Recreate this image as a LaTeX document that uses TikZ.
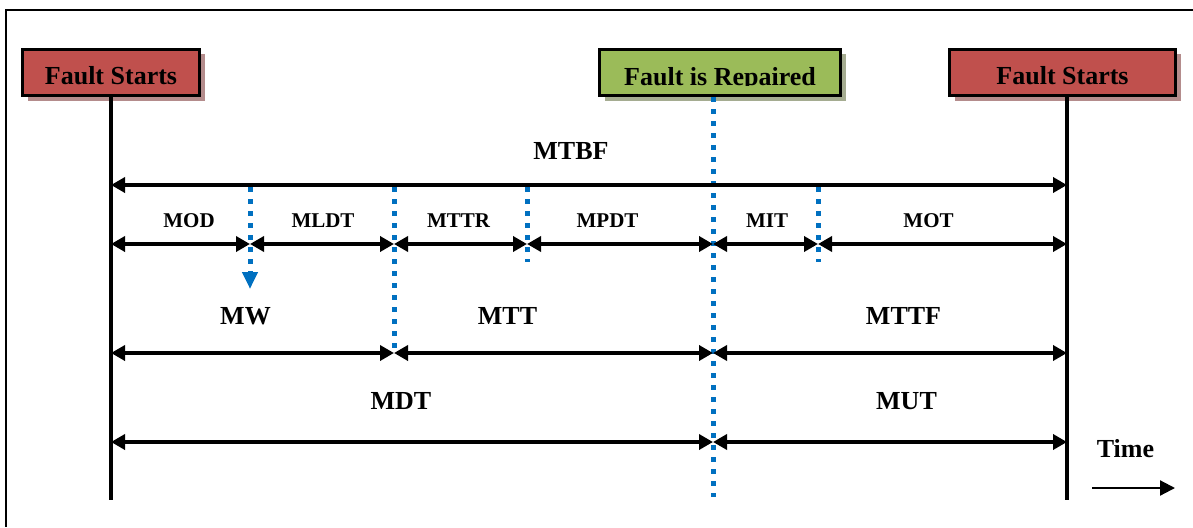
\documentclass[tikz,border=0pt]{standalone}
\usepackage{fontspec}
\setmainfont{Liberation Serif}
\usetikzlibrary{arrows.meta,shadows}
\definecolor{faultred}{RGB}{192,80,77}
\definecolor{fixgreen}{RGB}{155,187,89}
\definecolor{redshade}{RGB}{180,140,140}
\definecolor{greenshade}{RGB}{165,172,145}
\definecolor{markblue}{RGB}{0,112,192}

\begin{document}
\begin{tikzpicture}[x=1pt,y=-1pt,
  event/.style={draw=black, line width=3pt, minimum height=46pt, inner sep=0pt,
    text height=24pt, text depth=0pt,
    font=\fontsize{26}{30}\selectfont\bfseries},
  redevent/.style={event, fill=faultred,
    drop shadow={shadow xshift=5pt, shadow yshift=-5pt, fill=redshade, opacity=1}},
  greenevent/.style={event, fill=fixgreen,
    drop shadow={shadow xshift=5pt, shadow yshift=-5pt, fill=greenshade, opacity=1}},
  span/.style={line width=3.5pt,
    {Triangle[length=14pt,width=15pt]}-{Triangle[length=14pt,width=15pt]}},
  marker/.style={markblue, line width=5pt, dash pattern=on 5pt off 7pt},
  timeline/.style={line width=4pt},
  biglabel/.style={font=\fontsize{26}{30}\selectfont\bfseries, inner sep=0pt, anchor=base},
  smalllabel/.style={font=\fontsize{21}{25}\selectfont\bfseries, inner sep=0pt, anchor=base}]

\useasboundingbox (0,0) rectangle (1193,527);

% outer frame
\draw[line width=2pt] (1193,10) -- (6,10) -- (6,527);

% event boxes
\node[redevent, minimum width=177pt] (fs1) at (111,72.5) {Fault Starts};
\node[redevent, minimum width=226pt] (fs2) at (1062.5,72.5) {Fault Starts};
\node[greenevent, minimum width=241pt, text height=0pt] (rep) at (720,72.5) {};
\begin{scope}
  \clip (598,48) rectangle (842,85.5);
  \node[biglabel] (reptxt) at (720,85) {Fault is Repaired};
\end{scope}

% time instants
\coordinate (s0) at (111,500);
\coordinate (s4) at (713,497);
\coordinate (s6) at (1067,500);

% rows of spans
\coordinate (m0) at (111,185);  \coordinate (m6) at (1067,185);
\coordinate (r0) at (111,244);  \coordinate (r1) at (250,244);
\coordinate (r2) at (394,244);  \coordinate (r3) at (527,244);
\coordinate (r4) at (713,244);  \coordinate (r5) at (818,244);
\coordinate (r6) at (1067,244);
\coordinate (w0) at (111,353);  \coordinate (w2) at (394,353);
\coordinate (w4) at (713,353);  \coordinate (w6) at (1067,353);
\coordinate (d0) at (111,442);  \coordinate (d4) at (713,442);
\coordinate (d6) at (1067,442);

% blue markers
\coordinate (q1) at (250,187);  \coordinate (q1e) at (250,289);
\coordinate (q2) at (394,187);  \coordinate (q2e) at (394,352);
\coordinate (q3) at (527,187);  \coordinate (q3e) at (527,262);
\coordinate (q5) at (818,187);  \coordinate (q5e) at (818,262);

\draw[marker] (rep.south -| s4) -- (s4);
\draw[marker, -{Triangle[length=17pt,width=15pt]}] (q1) -- (q1e);
\draw[marker] (q2) -- (q2e);
\draw[marker] (q3) -- (q3e);
\draw[marker] (q5) -- (q5e);

% failure instants
\draw[timeline] (fs1.south) -- (s0);
\draw[timeline] (fs2.south -| s6) -- (s6);

% spans
\draw[span] (m0) -- (m6);
\draw[span] (r0) -- (r1);
\draw[span] (r1) -- (r2);
\draw[span] (r2) -- (r3);
\draw[span] (r3) -- (r4);
\draw[span] (r4) -- (r5);
\draw[span] (r5) -- (r6);
\draw[span] (w0) -- (w2);
\draw[span] (w2) -- (w4);
\draw[span] (w4) -- (w6);
\draw[span] (d0) -- (d4);
\draw[span] (d4) -- (d6);

% labels
\node[biglabel] (mtbf) at (571,159) {MTBF};
\node[smalllabel] (mod) at (189,227) {MOD};
\node[smalllabel] (mldt) at (323,227) {MLDT};
\node[smalllabel] (mttr) at (458.5,227) {MTTR};
\node[smalllabel] (mpdt) at (607.5,227) {MPDT};
\node[smalllabel] (mit) at (767,227) {MIT};
\node[smalllabel] (mot) at (928.5,227) {MOT};
\node[biglabel] (mw) at (245.5,324) {MW};
\node[biglabel] (mtt) at (507.5,324) {MTT};
\node[biglabel] (mttf) at (903.5,324) {MTTF};
\node[biglabel] (mdt) at (401,409) {MDT};
\node[biglabel] (mut) at (906.5,409) {MUT};

% time direction
\node[biglabel] (time) at (1125.5,457) {Time};
\coordinate (ta) at (1092,488);
\coordinate (tb) at (1175,488);
\draw[line width=2.2pt, -{Triangle[length=15pt,width=15pt]}] (ta) -- (tb);
\end{tikzpicture}
\end{document}
